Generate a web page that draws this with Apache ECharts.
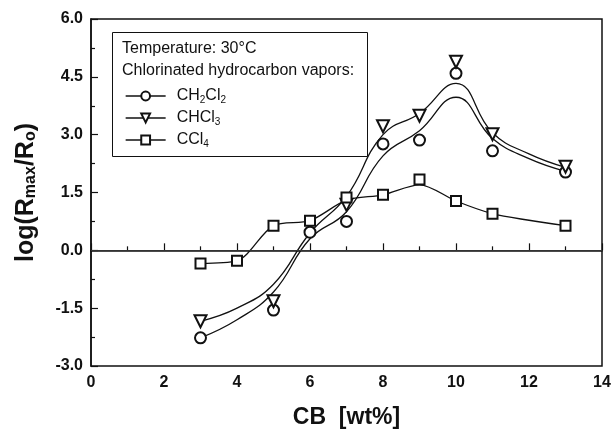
<!DOCTYPE html>
<html>
<head>
<meta charset="utf-8">
<script src="https://cdn.jsdelivr.net/npm/echarts@6/dist/echarts.min.js"></script>
<style>
  html, body { margin: 0; padding: 0; background: #fff; }
  #chart { width: 615px; height: 434px; }
</style>
</head>
<body>
<div id="chart"></div>
<script>
// measured points
const xs = [3, 4, 5, 6, 7, 8, 9, 10, 11, 12, 13]
const ch2cl2Pts = [[3, -2.27], [5, -1.55], [6, 0.47], [7, 0.75], [8, 2.76], [9, 2.86], [10, 4.59], [11, 2.58], [13, 2.03]]
const chcl3Pts  = [[3, -1.84], [5, -1.32], [7, 1.18], [8, 3.22], [9, 3.49], [10, 4.89], [11, 3.01], [13, 2.17]]
const ccl4Pts   = [[3, -0.34], [4, -0.27], [5, 0.64], [6, 0.77], [7, 1.37], [8, 1.44], [9, 1.84], [10, 1.28], [11, 0.95], [13, 0.64]]

const ch2cl2Fit = [-2.27, -1.8, -1.08, 0.3, 1.0, 2.45, 3.1, 3.97, 2.9, 2.38, 2.05]
const chcl3Fit  = [-1.84, -1.5, -0.88, 0.45, 1.4, 3.0, 3.55, 4.33, 3.05, 2.5, 2.15]
const ccl4Fit   = [-0.34, -0.27, 0.64, 0.77, 1.3, 1.44, 1.7, 1.28, 0.95, 0.78, 0.64]

const legendLabels = {
  CH2Cl2: '{n|CH}{s|2}{n|Cl}{s|2}',
  CHCl3: '{n|CHCl}{s|3}',
  CCl4: '{n|CCl}{s|4}',
}

const INK = '#111'
const FONT = 'Liberation Sans, Arial, sans-serif'

const chart = echarts.init(document.getElementById('chart'), null, { renderer: 'canvas' })

const zip = (arr) => xs.map((x, i) => [x, arr[i]])

const fitLine = (data, extra = {}) => ({
  type: 'line',
  data: zip(data),
  smooth: 0.45,
  symbol: 'none',
  lineStyle: { color: INK, width: 1.3 },
  silent: true,
  z: 2,
  ...extra,
})

const marks = (name, data, symbol, rotate, size) => ({
  name,
  type: 'line',
  data,
  symbol,
  symbolSize: size,
  symbolRotate: rotate,
  lineStyle: { width: 0, opacity: 0 },
  itemStyle: { color: INK, borderColor: INK, borderWidth: 1.3 },
  z: 5,
})

chart.setOption({
  animation: false,
  backgroundColor: '#fff',
  textStyle: { fontFamily: FONT },
  grid: {
    left: 91, right: 13, top: 19, bottom: 65,
    show: true, borderColor: INK, borderWidth: 1.5,
  },
  xAxis: {
    type: 'value',
    min: 0, max: 14, interval: 2,
    name: 'CB  [wt%]',
    nameLocation: 'middle',
    nameGap: 40,
    nameTextStyle: { color: INK, fontSize: 23, fontWeight: 'bold', fontFamily: FONT },
    axisLine: { lineStyle: { color: INK, width: 1.5 } },
    axisTick: { inside: true, length: 7, lineStyle: { color: INK, width: 1.2 } },
    minorTick: { show: true, splitNumber: 2, length: 4, lineStyle: { color: INK, width: 1.2 } },
    splitLine: { show: false },
    axisLabel: { color: INK, fontSize: 16, fontWeight: 'bold', margin: 9, fontFamily: FONT },
  },
  yAxis: {
    type: 'value',
    min: -3, max: 6, interval: 1.5,
    name: 'log(R{s|max}/R{s|o})',
    nameLocation: 'middle',
    nameRotate: 90,
    nameGap: 52,
    nameTextStyle: {
      color: INK, fontSize: 25, fontWeight: 'bold', fontFamily: FONT,
      rich: { s: { fontSize: 16, fontWeight: 'bold', color: INK, padding: [10, 0, 0, 0], fontFamily: FONT } },
    },
    axisLine: { lineStyle: { color: INK, width: 1.5 } },
    axisTick: { inside: true, length: 7, lineStyle: { color: INK, width: 1.2 } },
    minorTick: { show: true, splitNumber: 2, length: 4, lineStyle: { color: INK, width: 1.2 } },
    splitLine: { show: false },
    axisLabel: {
      color: INK, fontSize: 16, fontWeight: 'bold', margin: 8, fontFamily: FONT,
      formatter: v => v.toFixed(1),
    },
  },
  legend: {
    orient: 'vertical',
    left: 120, top: 83,
    itemWidth: 40, itemHeight: 11, itemGap: 5,
    lineStyle: { color: INK, width: 1.3, opacity: 1 },
    data: ['CH2Cl2', 'CHCl3', 'CCl4'],
    formatter: name => legendLabels[name],
    textStyle: {
      color: INK, fontSize: 16, fontFamily: FONT, padding: [0, 0, 0, 6],
      rich: {
        n: { fontSize: 16, color: INK, fontFamily: FONT },
        s: { fontSize: 10, color: INK, fontFamily: FONT, padding: [8, 0, 0, 0] },
      },
    },
  },
  graphic: [
    {
      type: 'rect', left: 110, top: 30, z: 10,
      shape: { width: 255, height: 124 },
      style: { fill: 'none', stroke: INK, lineWidth: 1 },
    },
    {
      type: 'text', left: 122, top: 41, z: 10,
      style: { text: 'Temperature: 30°C', fontSize: 16, fontFamily: FONT, fill: INK },
    },
    {
      type: 'text', left: 122, top: 63, z: 10,
      style: { text: 'Chlorinated hydrocarbon vapors:', fontSize: 16, fontFamily: FONT, fill: INK },
    },
  ],
  series: [
    fitLine(ch2cl2Fit, {
      markLine: {
        silent: true, symbol: 'none', label: { show: false },
        lineStyle: { color: '#333', width: 1, type: 'solid' },
        data: [{ yAxis: 0 }],
      },
    }),
    fitLine(chcl3Fit),
    fitLine(ccl4Fit, { smooth: 0.3 }),
    marks('CH2Cl2', ch2cl2Pts, 'emptyCircle', 0, 11),
    marks('CHCl3', chcl3Pts, 'emptyTriangle', 180, 12),
    marks('CCl4', ccl4Pts, 'emptyRect', 0, 10),
  ],
})
</script>
</body>
</html>
